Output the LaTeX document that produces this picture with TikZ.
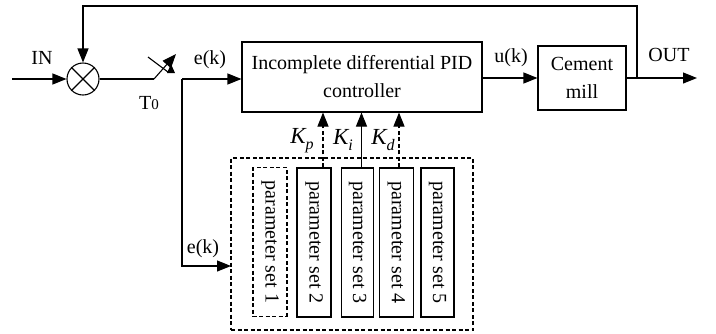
\documentclass[tikz,border=0pt]{standalone}
\usepackage{fontspec}
\setmainfont{Liberation Serif}
\usetikzlibrary{arrows.meta,calc}
\begin{document}
\begin{tikzpicture}[x=1pt,y=-1pt,
  line width=1.1pt,
  txt/.style={font=\fontsize{20}{24}\selectfont, inner sep=0pt},
  blk/.style={draw, rectangle, inner sep=0pt, font=\fontsize{20}{24}\selectfont, align=center},
  arr/.style={-{Triangle[length=14pt,width=11pt]}},
  dsh/.style={dash pattern=on 4pt off 2.5pt},
  pset/.style={draw, rectangle, inner sep=0pt, rotate=-90, minimum width=149pt, minimum height=34pt, font=\fontsize{20}{24}\selectfont}
]
\useasboundingbox (0,0) rectangle (716,333);

% summing junction
\node (sum) [draw, circle, minimum size=32pt, inner sep=0pt] at (83,79) {};
\draw (sum.north west) -- (sum.south east);
\draw (sum.north east) -- (sum.south west);

% blocks
\node (ctrl) [blk, minimum width=240pt, minimum height=70pt] at (362,77)
  {Incomplete differential PID\\[4pt]controller};
\node (mill) [blk, minimum width=88pt, minimum height=64pt] at (582,78)
  {Cement\\[4pt]mill};

% parameter store
\node (store) [draw, dsh, rectangle, minimum width=242pt, minimum height=172pt, inner sep=0pt] at (352,244) {};
\node (p1) [pset, dsh] at (270,242) {parameter set 1};
\node (p2) [pset] at (314,242.5) {parameter set 2};
\node (p3) [pset, minimum height=32pt] at (357.5,242.5) {parameter set 3};
\node (p4) [pset] at (396.3,242.5) {parameter set 4};
\node (p5) [pset, minimum height=33pt] at (437.5,242.5) {parameter set 5};

% coordinates
\coordinate (in) at (12,79);
\coordinate (sw1) at (154,79);
\coordinate (swtip) at (176,54);
\coordinate (sw2) at (182,79);
\coordinate (sd) at (182,266);
\coordinate (sdin) at (231,266);
\coordinate (out) at (697,78);
\coordinate (fb) at (637,78);
\coordinate (fbtop) at (637,6);
\coordinate (fbl) at (83,6);

% main path
\draw[arr] (in) -- (sum.west);
\draw (sum.east) -- (sw1);
\draw[arr] (sw1) -- (swtip);
\coordinate (c1) at (148,57);
\coordinate (c2) at (168,72);
\draw (c1) -- (c2);
\fill (167,73) -- (171,64) -- (175,73) -- cycle;
\draw[arr] (sw2) -- (sw2 -| ctrl.west);
\draw[arr] (sw2) -- (sd) -- (sdin);
\draw[arr] (ctrl.east |- mill.west) -- (mill.west);
\draw[arr] (mill.east) -- (out);
\draw[arr] (fb) -- (fbtop) -- (fbl) -- (sum.north);

% gain arrows (rotated nodes: .west is the top side)
\draw[arr, dsh] (p2.west -| 323,0) -- (ctrl.south -| 323,0);
\draw[arr] (p3.west -| 361.5,0) -- (ctrl.south -| 361.5,0);
\draw[arr, dsh] (p4.west -| 399,0) -- (ctrl.south -| 399,0);

% labels
\node (lin) [txt] at (42,58) {IN};
\node (lt0) [txt] at (149,103) {T{\fontsize{15}{18}\selectfont 0}};
\node (le1) [txt] at (210,60) {e(k)};
\node (le2) [txt] at (203,249) {e(k)};
\node (lu) [txt] at (511,58) {u(k)};
\node (lout) [txt] at (669,55) {OUT};
\node (lkp) [txt] at (302,141) {\fontsize{23}{26}\selectfont\itshape K\raisebox{-6pt}{\fontsize{16}{18}\selectfont p}};
\node (lki) [txt] at (343,140) {\fontsize{23}{26}\selectfont\itshape K\raisebox{-6pt}{\fontsize{16}{18}\selectfont i}};
\node (lkd) [txt] at (383,140) {\fontsize{23}{26}\selectfont\itshape K\raisebox{-6pt}{\fontsize{16}{18}\selectfont d}};
\end{tikzpicture}
\end{document}
